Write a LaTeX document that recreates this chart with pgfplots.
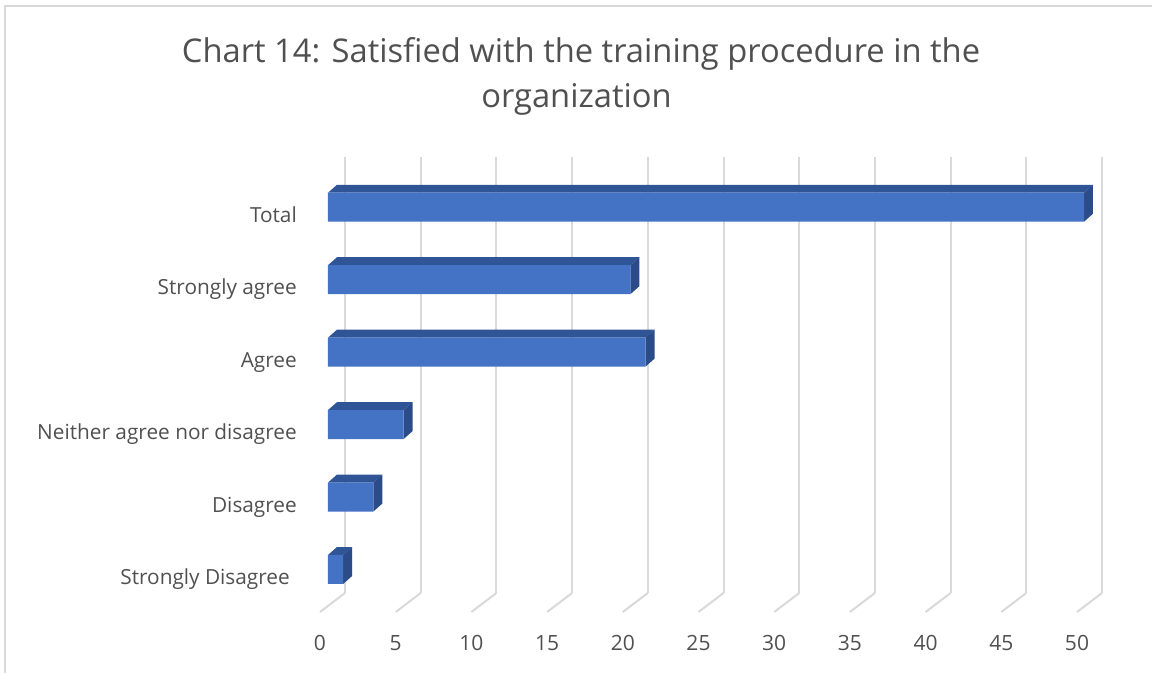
\documentclass[border=0pt]{standalone}
\usepackage{pgfplots}
\pgfplotsset{compat=1.18}
\usepackage{pgfplotstable}
\usepackage{fontspec}
\setmainfont{Open Sans}
\definecolor{frontc}{HTML}{4472C4}
\definecolor{topc}{HTML}{2F5597}
\definecolor{sidec}{HTML}{2B4C88}
\definecolor{gridc}{HTML}{D9D9D9}
\definecolor{txtc}{HTML}{505050}
\pgfplotstableread{
y v
0 1
1 3
2 5
3 21
4 20
5 50
}\bardata
\pgfplotstableread{
x y
0 0
5 0
10 0
15 0
20 0
25 0
30 0
35 0
40 0
45 0
50 0
}\gridpts
\begin{document}
\begin{tikzpicture}[x=1pt,y=1pt]
% chart border (top and left visible)
\draw[gridc, line width=1.5pt] (5,0) -- (5,667) -- (1152,667);
% title
\node[anchor=base, font=\fontsize{32.7}{38}\selectfont, text=txtc, inner sep=0pt] at (581,610.3) {Chart 14: Satisfied with the training procedure in the};
\node[anchor=base, font=\fontsize{32.7}{38}\selectfont, text=txtc, inner sep=0pt] at (576.5,565) {organization};
% back wall and floor
\begin{axis}[
  at={(345pt,80pt)}, anchor=south west,
  scale only axis, width=757pt, height=436pt,
  xmin=0, xmax=50, ymin=0, ymax=436,
  axis line style={draw=none},
  xtick={0,5,...,50}, ytick=\empty,
  major tick length=0pt,
  xmajorgrids, grid style={draw=gridc, line width=2pt},
  /pgf/number format/assume math mode=true,
  xticklabel style={font=\fontsize{21}{25}\selectfont, text=txtc, anchor=base, inner sep=0pt, xshift=-25pt, yshift=-57pt},
  clip=false,
]
\addplot[quiver={u=-1.651,v=-19}, draw=gridc, line width=2pt, no marks] table[x=x,y=y] {\gridpts};
\end{axis}
% bars
\begin{axis}[
  at={(328pt,67.3pt)}, anchor=south west,
  scale only axis, width=756pt, height=434.7pt,
  xmin=0, xmax=50, ymin=-0.5, ymax=5.5,
  axis line style={draw=none},
  xtick=\empty, ytick={0,...,5},
  yticklabels={Strongly Disagree\rule{7pt}{0pt}, Disagree, Neither agree nor disagree, Agree, Strongly agree, Total},
  major tick length=0pt,
  yticklabel style={font=\fontsize{20.8}{25}\selectfont, text=txtc, anchor=base east, inner sep=0pt, xshift=-31pt, yshift=-15pt},
  clip=false,
]
% top faces
\addplot[fill=topc, draw=none] coordinates {(0,5.2) (50,5.2) (50.595,5.31) (0.595,5.31)};
\addplot[fill=topc, draw=none] coordinates {(0,4.2) (20,4.2) (20.595,4.31) (0.595,4.31)};
\addplot[fill=topc, draw=none] coordinates {(0,3.2) (21,3.2) (21.595,3.31) (0.595,3.31)};
\addplot[fill=topc, draw=none] coordinates {(0,2.2) (5,2.2) (5.595,2.31) (0.595,2.31)};
\addplot[fill=topc, draw=none] coordinates {(0,1.2) (3,1.2) (3.595,1.31) (0.595,1.31)};
\addplot[fill=topc, draw=none] coordinates {(0,0.2) (1,0.2) (1.595,0.31) (0.595,0.31)};
% side faces
\addplot[fill=sidec, draw=none] coordinates {(50,4.8) (50,5.2) (50.595,5.31) (50.595,4.91)};
\addplot[fill=sidec, draw=none] coordinates {(20,3.8) (20,4.2) (20.595,4.31) (20.595,3.91)};
\addplot[fill=sidec, draw=none] coordinates {(21,2.8) (21,3.2) (21.595,3.31) (21.595,2.91)};
\addplot[fill=sidec, draw=none] coordinates {(5,1.8) (5,2.2) (5.595,2.31) (5.595,1.91)};
\addplot[fill=sidec, draw=none] coordinates {(3,0.8) (3,1.2) (3.595,1.31) (3.595,0.91)};
\addplot[fill=sidec, draw=none] coordinates {(1,-0.2) (1,0.2) (1.595,0.31) (1.595,-0.09)};
% front faces
\addplot[xbar, fill=frontc, draw=none, bar width=29pt] table[x=v,y=y] {\bardata};
\end{axis}
\pgfresetboundingbox
\useasboundingbox (0,0) rectangle (1152,673);
\end{tikzpicture}
\end{document}
